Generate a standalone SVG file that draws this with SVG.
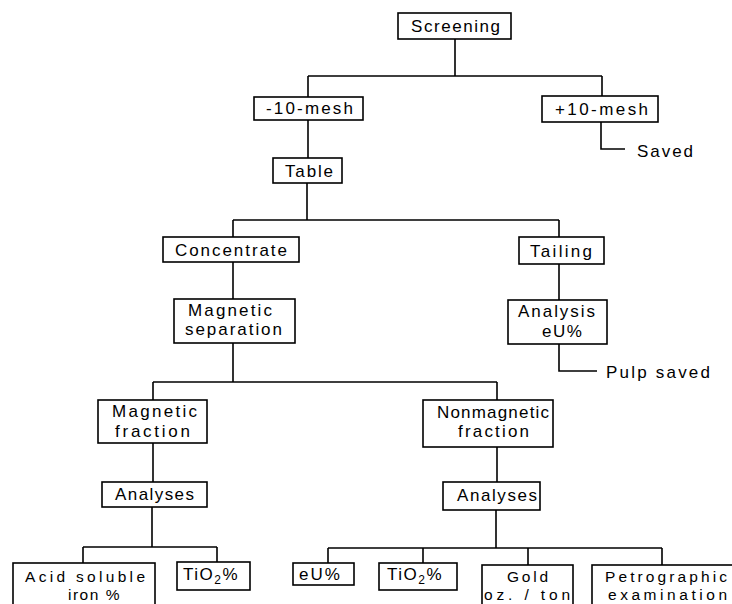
<svg xmlns="http://www.w3.org/2000/svg" width="732" height="604" viewBox="0 0 732 604">
<style>
.b{fill:#fff;stroke:#000;stroke-width:1.6}
.c{fill:none;stroke:#000;stroke-width:1.6}
text{font-family:"Liberation Sans","DejaVu Sans",sans-serif;font-size:17px;fill:#000}
.t{font-size:15.5px}
.s{font-size:12px}
</style>
<rect width="732" height="604" fill="#fff"/>
<g id="connectors">
<path class="c" d="M455 39V76M308 76H602M308 76V97M602 76V96"/>
<path class="c" d="M308 120V158"/>
<path class="c" d="M601 122V149H625"/>
<path class="c" d="M307 183V220M233 220H559M233 220V237M559 220V237"/>
<path class="c" d="M233 262V299"/>
<path class="c" d="M559 264V300"/>
<path class="c" d="M559 344V371H597"/>
<path class="c" d="M233 343V382M153 382H497M153 382V400M497 382V400"/>
<path class="c" d="M153 443V482"/>
<path class="c" d="M497 447V482"/>
<path class="c" d="M152 507V547M83 547H217M83 547V563M217 547V562"/>
<path class="c" d="M496 510V548M328 548H662M328 548V563M423 548V563M528 548V565M662 548V565"/>
</g>
<g id="screening"><rect class="b" x="398" y="13" width="113" height="26"/><text x="411" y="32" textLength="89" lengthAdjust="spacing">Screening</text></g>
<g id="minus10"><rect class="b" x="254" y="97" width="109" height="23"/><text x="266" y="114" textLength="87" lengthAdjust="spacing">-10-mesh</text></g>
<g id="plus10"><rect class="b" x="542" y="96" width="116" height="26"/><text x="555" y="115" textLength="93" lengthAdjust="spacing">+10-mesh</text></g>
<g id="saved"><text x="637" y="157" textLength="56" lengthAdjust="spacing">Saved</text></g>
<g id="table"><rect class="b" x="273" y="158" width="69" height="25"/><text x="285" y="177" textLength="48" lengthAdjust="spacing">Table</text></g>
<g id="concentrate"><rect class="b" x="163" y="237" width="136" height="25"/><text x="175" y="256" textLength="112" lengthAdjust="spacing">Concentrate</text></g>
<g id="tailing"><rect class="b" x="519" y="237" width="85" height="27"/><text x="530" y="257" textLength="62" lengthAdjust="spacing">Tailing</text></g>
<g id="magsep"><rect class="b" x="174" y="299" width="121" height="44"/><text x="188" y="316" textLength="84" lengthAdjust="spacing">Magnetic</text><text x="185" y="335" textLength="97" lengthAdjust="spacing">separation</text></g>
<g id="analysis"><rect class="b" x="508" y="300" width="99" height="44"/><text x="518" y="317" textLength="77" lengthAdjust="spacing">Analysis</text><text x="542" y="337" letter-spacing="1.5">eU%</text></g>
<g id="pulp"><text x="606" y="378" textLength="104" lengthAdjust="spacing">Pulp saved</text></g>
<g id="magfrac"><rect class="b" x="98" y="400" width="109" height="43"/><text x="112" y="417" textLength="85" lengthAdjust="spacing">Magnetic</text><text x="115" y="437" textLength="75" lengthAdjust="spacing">fraction</text></g>
<g id="nonmagfrac"><rect class="b" x="423" y="400" width="130" height="47"/><text x="437" y="418" textLength="112" lengthAdjust="spacing">Nonmagnetic</text><text x="458" y="437" textLength="71" lengthAdjust="spacing">fraction</text></g>
<g id="analyses1"><rect class="b" x="102" y="482" width="105" height="25"/><text x="115" y="500" textLength="79" lengthAdjust="spacing">Analyses</text></g>
<g id="analyses2"><rect class="b" x="443" y="482" width="97" height="28"/><text x="457" y="501" textLength="80" lengthAdjust="spacing">Analyses</text></g>
<g id="acid"><rect class="b" x="13" y="563" width="142" height="50"/><text class="t" x="25" y="582" textLength="120" lengthAdjust="spacing">Acid soluble</text><text class="t" x="68" y="600" letter-spacing="1.5">iron %</text></g>
<g id="tio2a"><rect class="b" x="177" y="562" width="73" height="28"/><text x="183" y="580" letter-spacing="1.5">TiO<tspan class="s" dy="4">2</tspan><tspan dy="-4">%</tspan></text></g>
<g id="eu"><rect class="b" x="293" y="563" width="61" height="22"/><text x="299" y="580" letter-spacing="2">eU%</text></g>
<g id="tio2b"><rect class="b" x="379" y="563" width="78" height="27"/><text x="387" y="580" letter-spacing="1.5">TiO<tspan class="s" dy="4">2</tspan><tspan dy="-4">%</tspan></text></g>
<g id="gold"><rect class="b" x="482" y="565" width="91" height="50"/><text class="t" x="507" y="582" textLength="41" lengthAdjust="spacing">Gold</text><text class="t" x="484" y="600" textLength="86" lengthAdjust="spacing">oz. / ton</text></g>
<g id="petro"><rect class="b" x="592" y="565" width="143" height="50"/><text class="t" x="605" y="582" textLength="122" lengthAdjust="spacing">Petrographic</text><text class="t" x="608" y="600" textLength="119" lengthAdjust="spacing">examination</text></g>
</svg>
